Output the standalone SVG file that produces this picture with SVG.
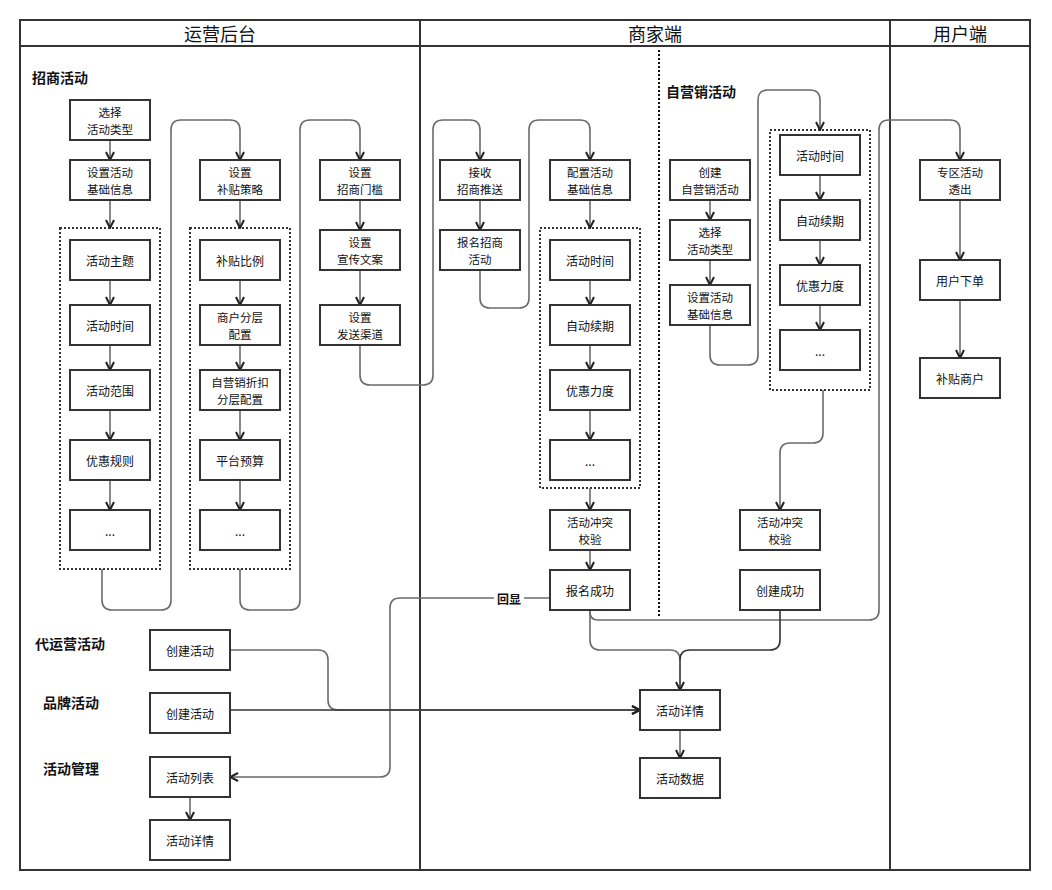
<svg xmlns="http://www.w3.org/2000/svg" width="1052" height="890" viewBox="0 0 1052 890">
<style>
text{font-family:"Noto Sans CJK SC","Noto Sans",sans-serif;fill:#111;}
.n rect{fill:#fff;stroke:#333;stroke-width:2;}
.n text{font-size:12px;text-anchor:middle;dominant-baseline:central;}
.n text.t2{font-size:11.5px;}
.n tspan{dominant-baseline:central;}
.g{fill:none;stroke:#333;stroke-width:2;stroke-dasharray:2,2;}
.lane{fill:none;stroke:#333;stroke-width:2;}
.hd{font-size:18px;text-anchor:middle;dominant-baseline:central;}
.lb{font-size:14px;font-weight:bold;dominant-baseline:central;}
.c path{fill:none;stroke:#6b6b6b;stroke-width:1.6;marker-end:url(#a);}
.c path.na{marker-end:none;}
.c path.dk{stroke:#333;}
</style>
<defs>
<marker id="a" viewBox="0 0 10 10" refX="9" refY="5" markerWidth="10" markerHeight="10" markerUnits="userSpaceOnUse" orient="auto">
<path d="M1,1 L9,5 L1,9" fill="none" stroke="#222" stroke-width="2"/>
</marker>
</defs>
<rect width="1052" height="890" fill="#fff"/>
<g id="lanes">
<rect class="lane" x="20" y="20" width="1010" height="850"/>
<line class="lane" x1="20" y1="46" x2="1030" y2="46"/>
<line class="lane" x1="420" y1="20" x2="420" y2="870"/>
<line class="lane" x1="890" y1="20" x2="890" y2="870"/>
<text class="hd" x="220" y="33">运营后台</text>
<text class="hd" x="655" y="33">商家端</text>
<text class="hd" x="960" y="33">用户端</text>
<line x1="659" y1="50" x2="659" y2="616" stroke="#111" stroke-width="2" stroke-dasharray="2,2"/>
</g>
<g id="labels">
<text class="lb" x="32" y="77">招商活动</text>
<text class="lb" x="666" y="91">自营销活动</text>
<text class="lb" x="35" y="643">代运营活动</text>
<text class="lb" x="43" y="702">品牌活动</text>
<text class="lb" x="43" y="768">活动管理</text>
</g>
<g id="groups">
<rect class="g" x="60" y="228" width="100" height="341"/>
<rect class="g" x="190" y="228" width="100" height="341"/>
<rect class="g" x="540" y="228" width="100" height="260"/>
<rect class="g" x="770" y="130" width="100" height="260"/>
</g>
<g id="connectors" class="c">
<path d="M110,140 L110,160"/>
<path d="M110,200 L110,228"/>
<path d="M110,280 L110,305"/>
<path d="M110,345 L110,370"/>
<path d="M110,410 L110,440"/>
<path d="M110,480 L110,510"/>
<path d="M102,569 L102,600 Q102,610 112,610 L161,610 Q171,610 171,600 L171,130 Q171,120 181,120 L230,120 Q240,120 240,130 L240,160"/>
<path d="M240,200 L240,228"/>
<path d="M240,280 L240,305"/>
<path d="M240,345 L240,370"/>
<path d="M240,410 L240,440"/>
<path d="M240,480 L240,510"/>
<path d="M240,569 L240,600 Q240,610 250,610 L290,610 Q300,610 300,600 L300,130 Q300,120 310,120 L350,120 Q360,120 360,130 L360,160"/>
<path d="M360,200 L360,230"/>
<path d="M360,270 L360,305"/>
<path d="M360,345 L360,375 Q360,385 370,385 L423,385 Q433,385 433,375 L433,130 Q433,120 443,120 L470,120 Q480,120 480,130 L480,160"/>
<path d="M480,200 L480,230"/>
<path d="M480,270 L480,298 Q480,308 490,308 L519,308 Q529,308 529,298 L529,130 Q529,120 539,120 L580,120 Q590,120 590,130 L590,160"/>
<path d="M590,200 L590,228"/>
<path d="M590,280 L590,305"/>
<path d="M590,345 L590,370"/>
<path d="M590,410 L590,440"/>
<path d="M590,488 L590,510"/>
<path d="M590,550 L590,570"/>
<path d="M710,200 L710,220"/>
<path d="M710,260 L710,285"/>
<path d="M710,325 L710,355 Q710,365 720,365 L748,365 Q758,365 758,355 L758,100 Q758,90 768,90 L810,90 Q820,90 820,100 L820,130"/>
<path d="M820,175 L820,200"/>
<path d="M820,240 L820,265"/>
<path d="M820,305 L820,330"/>
<path d="M823,390 L823,433 Q823,443 813,443 L790,443 Q780,443 780,453 L780,510"/>
<path d="M590,610 L590,612 Q590,620 598,620 L869,620 Q879,620 879,610 L879,130 Q879,120 889,120 L950,120 Q960,120 960,130 L960,160"/>
<path class="na" d="M590,610 L590,640 Q590,650 600,650 L670,650 Q680,650 680,660"/>
<path class="dk" d="M780,610 L780,640 Q780,650 770,650 L690,650 Q680,650 680,660 L680,690"/>
<path d="M960,200 L960,260"/>
<path d="M960,300 L960,358"/>
<path d="M550,598 L400,598 Q390,598 390,608 L390,767 Q390,777 380,777 L230,777"/>
<path d="M230,650 L318,650 Q328,650 328,660 L328,700 Q328,710 338,710 L640,710"/>
<path class="dk" d="M230,710 L640,710"/>
<path d="M680,730 L680,758"/>
<path d="M190,797 L190,820"/>
<rect x="494" y="590" width="30" height="16" fill="#fff"/>
<text x="509" y="598" font-size="12" font-weight="bold" text-anchor="middle" dominant-baseline="central">回显</text>
</g>
<g id="n1" class="n"><rect x="70" y="100" width="80" height="40"/><text class="t2"><tspan x="110" y="111.5">选择</tspan><tspan x="110" y="128.5">活动类型</tspan></text></g>
<g id="n2" class="n"><rect x="70" y="160" width="80" height="40"/><text class="t2"><tspan x="110" y="171.5">设置活动</tspan><tspan x="110" y="188.5">基础信息</tspan></text></g>
<g id="n3" class="n"><rect x="70" y="240" width="80" height="40"/><text x="110" y="260">活动主题</text></g>
<g id="n4" class="n"><rect x="70" y="305" width="80" height="40"/><text x="110" y="325">活动时间</text></g>
<g id="n5" class="n"><rect x="70" y="370" width="80" height="40"/><text x="110" y="390">活动范围</text></g>
<g id="n6" class="n"><rect x="70" y="440" width="80" height="40"/><text x="110" y="460">优惠规则</text></g>
<g id="n7" class="n"><rect x="70" y="510" width="80" height="40"/><text x="110" y="530">...</text></g>
<g id="n8" class="n"><rect x="200" y="160" width="80" height="40"/><text class="t2"><tspan x="240" y="171.5">设置</tspan><tspan x="240" y="188.5">补贴策略</tspan></text></g>
<g id="n9" class="n"><rect x="200" y="240" width="80" height="40"/><text x="240" y="260">补贴比例</text></g>
<g id="n10" class="n"><rect x="200" y="305" width="80" height="40"/><text class="t2"><tspan x="240" y="316.5">商户分层</tspan><tspan x="240" y="333.5">配置</tspan></text></g>
<g id="n11" class="n"><rect x="200" y="370" width="80" height="40"/><text class="t2"><tspan x="240" y="381.5">自营销折扣</tspan><tspan x="240" y="398.5">分层配置</tspan></text></g>
<g id="n12" class="n"><rect x="200" y="440" width="80" height="40"/><text x="240" y="460">平台预算</text></g>
<g id="n13" class="n"><rect x="200" y="510" width="80" height="40"/><text x="240" y="530">...</text></g>
<g id="n14" class="n"><rect x="320" y="160" width="80" height="40"/><text class="t2"><tspan x="360" y="171.5">设置</tspan><tspan x="360" y="188.5">招商门槛</tspan></text></g>
<g id="n15" class="n"><rect x="320" y="230" width="80" height="40"/><text class="t2"><tspan x="360" y="241.5">设置</tspan><tspan x="360" y="258.5">宣传文案</tspan></text></g>
<g id="n16" class="n"><rect x="320" y="305" width="80" height="40"/><text class="t2"><tspan x="360" y="316.5">设置</tspan><tspan x="360" y="333.5">发送渠道</tspan></text></g>
<g id="n17" class="n"><rect x="150" y="630" width="80" height="40"/><text x="190" y="650">创建活动</text></g>
<g id="n18" class="n"><rect x="150" y="693" width="80" height="40"/><text x="190" y="713">创建活动</text></g>
<g id="n19" class="n"><rect x="150" y="757" width="80" height="40"/><text x="190" y="777">活动列表</text></g>
<g id="n20" class="n"><rect x="150" y="820" width="80" height="40"/><text x="190" y="840">活动详情</text></g>
<g id="n21" class="n"><rect x="440" y="160" width="80" height="40"/><text class="t2"><tspan x="480" y="171.5">接收</tspan><tspan x="480" y="188.5">招商推送</tspan></text></g>
<g id="n22" class="n"><rect x="440" y="230" width="80" height="40"/><text class="t2"><tspan x="480" y="241.5">报名招商</tspan><tspan x="480" y="258.5">活动</tspan></text></g>
<g id="n23" class="n"><rect x="550" y="160" width="80" height="40"/><text class="t2"><tspan x="590" y="171.5">配置活动</tspan><tspan x="590" y="188.5">基础信息</tspan></text></g>
<g id="n24" class="n"><rect x="550" y="240" width="80" height="40"/><text x="590" y="260">活动时间</text></g>
<g id="n25" class="n"><rect x="550" y="305" width="80" height="40"/><text x="590" y="325">自动续期</text></g>
<g id="n26" class="n"><rect x="550" y="370" width="80" height="40"/><text x="590" y="390">优惠力度</text></g>
<g id="n27" class="n"><rect x="550" y="440" width="80" height="40"/><text x="590" y="460">...</text></g>
<g id="n28" class="n"><rect x="550" y="510" width="80" height="40"/><text class="t2"><tspan x="590" y="521.5">活动冲突</tspan><tspan x="590" y="538.5">校验</tspan></text></g>
<g id="n29" class="n"><rect x="550" y="570" width="80" height="40"/><text x="590" y="590">报名成功</text></g>
<g id="n30" class="n"><rect x="670" y="160" width="80" height="40"/><text class="t2"><tspan x="710" y="171.5">创建</tspan><tspan x="710" y="188.5">自营销活动</tspan></text></g>
<g id="n31" class="n"><rect x="670" y="220" width="80" height="40"/><text class="t2"><tspan x="710" y="231.5">选择</tspan><tspan x="710" y="248.5">活动类型</tspan></text></g>
<g id="n32" class="n"><rect x="670" y="285" width="80" height="40"/><text class="t2"><tspan x="710" y="296.5">设置活动</tspan><tspan x="710" y="313.5">基础信息</tspan></text></g>
<g id="n33" class="n"><rect x="780" y="135" width="80" height="40"/><text x="820" y="155">活动时间</text></g>
<g id="n34" class="n"><rect x="780" y="200" width="80" height="40"/><text x="820" y="220">自动续期</text></g>
<g id="n35" class="n"><rect x="780" y="265" width="80" height="40"/><text x="820" y="285">优惠力度</text></g>
<g id="n36" class="n"><rect x="780" y="330" width="80" height="40"/><text x="820" y="350">...</text></g>
<g id="n37" class="n"><rect x="740" y="510" width="80" height="40"/><text class="t2"><tspan x="780" y="521.5">活动冲突</tspan><tspan x="780" y="538.5">校验</tspan></text></g>
<g id="n38" class="n"><rect x="740" y="570" width="80" height="40"/><text x="780" y="590">创建成功</text></g>
<g id="n39" class="n"><rect x="640" y="690" width="80" height="40"/><text x="680" y="710">活动详情</text></g>
<g id="n40" class="n"><rect x="640" y="758" width="80" height="40"/><text x="680" y="778">活动数据</text></g>
<g id="n41" class="n"><rect x="920" y="160" width="80" height="40"/><text class="t2"><tspan x="960" y="171.5">专区活动</tspan><tspan x="960" y="188.5">透出</tspan></text></g>
<g id="n42" class="n"><rect x="920" y="260" width="80" height="40"/><text x="960" y="280">用户下单</text></g>
<g id="n43" class="n"><rect x="920" y="358" width="80" height="40"/><text x="960" y="378">补贴商户</text></g>
</svg>
